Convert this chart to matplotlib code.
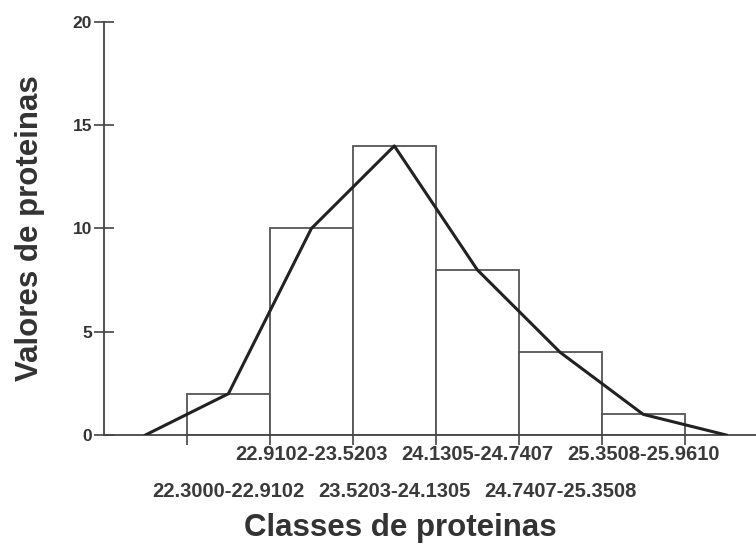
import numpy as np
import matplotlib.pyplot as plt
import matplotlib.transforms as mtransforms

plt.rcParams['font.family'] = ['Liberation Sans', 'DejaVu Sans']

# ---- data ----
classes = ["22.3000-22.9102", "22.9102-23.5203", "23.5203-24.1305",
           "24.1305-24.7407", "24.7407-25.3508", "25.3508-25.9610"]
counts = [2, 10, 14, 8, 4, 1]
y_ticks = [0, 5, 10, 15, 20]

# frequency polygon: class midpoints plus an empty class on each side
n = len(counts)
centers = np.arange(n) + 0.5
poly_x = np.concatenate([[-0.5], centers, [n + 0.5]])
poly_y = np.concatenate([[0], counts, [0]])
edges = np.arange(n + 1)

fig = plt.figure(figsize=(7.56, 5.48), dpi=100)
ax = fig.add_axes([104 / 756, 113 / 548, 652 / 756, 413 / 548])

ax.bar(centers, counts, width=1.0, facecolor='white', edgecolor='#555555',
       linewidth=1.3, zorder=2)
ax.plot(poly_x, poly_y, color='#222222', linewidth=2.2, zorder=3)

ax.set_xlim(-1.0, 6.86)
ax.set_ylim(0, 20)
for s in ['top', 'right']:
    ax.spines[s].set_visible(False)
for s in ['left', 'bottom']:
    ax.spines[s].set_color('#444444')
    ax.spines[s].set_linewidth(1.3)

ax.set_yticks(y_ticks)
ax.set_yticklabels([str(v) for v in y_ticks], fontsize=12.5, fontweight='bold',
                   color='#333333')
ax.tick_params(axis='y', direction='inout', length=15, width=1.2,
               color='#444444', pad=1)

ax.set_xticks(edges)
ax.set_xticklabels([])
ax.tick_params(axis='x', direction='out', length=7, width=1.2, color='#444444')

# staggered class labels under the bars
trans = mtransforms.blended_transform_factory(ax.transData, ax.transAxes)
for i, lab in enumerate(classes):
    yy = -0.048 if i % 2 == 1 else -0.136
    ax.text(centers[i], yy, lab, transform=trans, ha='center', va='center',
            fontsize=14.5, fontweight='bold', color='#3a3a3a')

fig.text(400 / 756, 20 / 548, "Classes de proteinas", ha='center', va='center',
         fontsize=22.5, fontweight='bold', color='#333333')
fig.text(30 / 756, 320 / 548, "Valores de proteinas", ha='center', va='center',
         rotation=90, fontsize=22.5, fontweight='bold', color='#333333')

fig.savefig('out.png', dpi=100)
